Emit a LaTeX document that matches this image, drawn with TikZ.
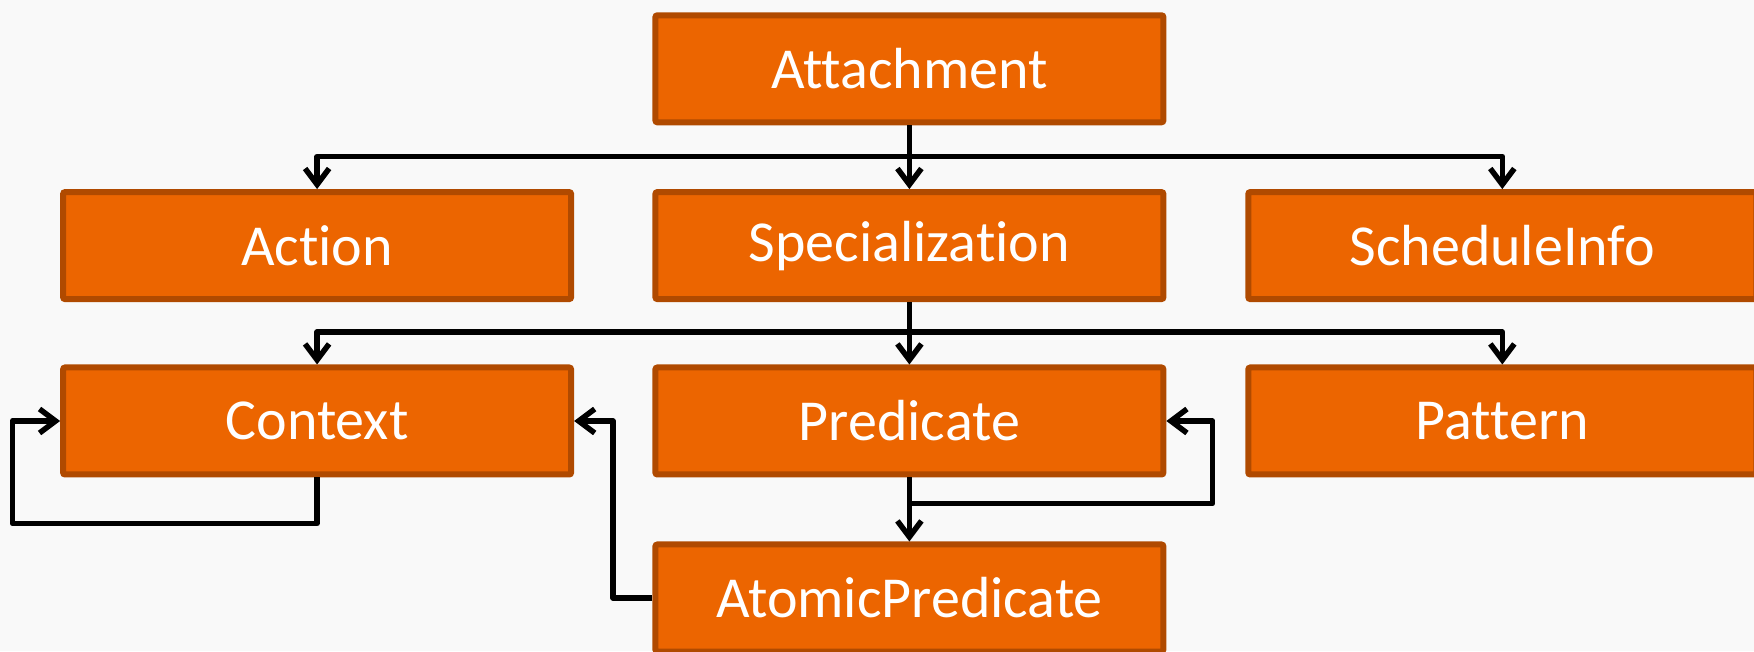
\documentclass[tikz,border=0pt]{standalone}
\usepackage{fontspec}
\setmainfont[RawFeature={-liga}]{Carlito}
\usetikzlibrary{arrows.meta}
\definecolor{Paper}{HTML}{F9F9F9}
\definecolor{Box}{HTML}{EC6500}
\definecolor{BoxEdge}{HTML}{B04A00}

\begin{document}
\begin{tikzpicture}[x=1pt,y=1pt,
      cls/.style={draw=BoxEdge,fill=Box,line width=6pt,rounded corners=2pt,
        minimum width=508pt,minimum height=107pt,inner sep=0pt,
        text=white,font=\fontsize{58}{70}\selectfont},
      link/.style={line width=5.5pt,line join=round,
        -{Straight Barb[length=16pt,width=24pt,line width=5.5pt]}}]
      \fill[Paper] (0,0) rectangle (1754,651);
      \clip (0,0) rectangle (1754,651);
      % class boxes
      \node[cls] (attach) at (909.4,582.2) {Attachment};
      \node[cls] (action) at (317.1,405.4) {Action};
      \node[cls] (spec) at (909.4,405.4) {Specialization};
      \node[cls] (sched) at (1502.3,405.4) {ScheduleInfo};
      \node[cls] (context) at (317.1,230) {Context};
      \node[cls] (pred) at (909.4,230) {Predicate};
      \node[cls] (pattern) at (1502.3,230) {Pattern};
      \node[cls] (atomic) at (909.4,53) {AtomicPredicate};
      % bends of the connectors
      \coordinate (bus1) at (909.4,494.4);
      \coordinate (bus2) at (909.4,318.8);
      \coordinate (ctxloop) at (12.3,127.5);
      \coordinate (atomloop) at (613,53);
      \coordinate (predjoin) at (909.4,147.6);
      \coordinate (predloop) at (1212.6,147.6);
      \draw[link] (attach.south) -- (spec.north);
      \draw[link] (attach.south) -- (bus1) -| (action.north);
      \draw[link] (attach.south) -- (bus1) -| (sched.north);
      \draw[link] (spec.south) -- (pred.north);
      \draw[link] (spec.south) -- (bus2) -| (context.north);
      \draw[link] (spec.south) -- (bus2) -| (pattern.north);
      \draw[link] (context.south) |- (ctxloop) |- (context.west);
      \draw[link] (atomic.west) -- (atomloop) |- (context.east);
      \draw[link] (pred.south) -- (atomic.north);
      \draw[link] (predjoin) -- (predloop) |- (pred.east);
    \end{tikzpicture}
\end{document}
